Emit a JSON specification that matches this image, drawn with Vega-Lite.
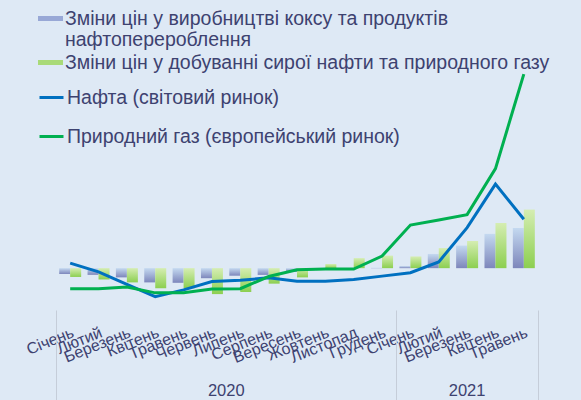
{
  "$schema": "https://vega.github.io/schema/vega-lite/v6.json",
  "width": 482,
  "height": 251,
  "autosize": {"type": "none"},
  "padding": {"left": 56, "top": 59, "right": 43, "bottom": 90},
  "background": "#dee9f5",
  "config": {"view": {"stroke": null}, "font": "Liberation Sans"},
  "datasets": {
    "bars": [
      {"m": "2020-01", "s": "Зміни цін у виробництві коксу та продуктів нафтоперероблення", "v": -14},
      {"m": "2020-02", "s": "Зміни цін у виробництві коксу та продуктів нафтоперероблення", "v": -16},
      {"m": "2020-03", "s": "Зміни цін у виробництві коксу та продуктів нафтоперероблення", "v": -22},
      {"m": "2020-04", "s": "Зміни цін у виробництві коксу та продуктів нафтоперероблення", "v": -34},
      {"m": "2020-05", "s": "Зміни цін у виробництві коксу та продуктів нафтоперероблення", "v": -35},
      {"m": "2020-06", "s": "Зміни цін у виробництві коксу та продуктів нафтоперероблення", "v": -24},
      {"m": "2020-07", "s": "Зміни цін у виробництві коксу та продуктів нафтоперероблення", "v": -18},
      {"m": "2020-08", "s": "Зміни цін у виробництві коксу та продуктів нафтоперероблення", "v": -16},
      {"m": "2020-09", "s": "Зміни цін у виробництві коксу та продуктів нафтоперероблення", "v": -9},
      {"m": "2020-10", "s": "Зміни цін у виробництві коксу та продуктів нафтоперероблення", "v": -3},
      {"m": "2020-11", "s": "Зміни цін у виробництві коксу та продуктів нафтоперероблення", "v": -1},
      {"m": "2020-12", "s": "Зміни цін у виробництві коксу та продуктів нафтоперероблення", "v": 1},
      {"m": "2021-01", "s": "Зміни цін у виробництві коксу та продуктів нафтоперероблення", "v": 5},
      {"m": "2021-02", "s": "Зміни цін у виробництві коксу та продуктів нафтоперероблення", "v": 34},
      {"m": "2021-03", "s": "Зміни цін у виробництві коксу та продуктів нафтоперероблення", "v": 54},
      {"m": "2021-04", "s": "Зміни цін у виробництві коксу та продуктів нафтоперероблення", "v": 82},
      {"m": "2021-05", "s": "Зміни цін у виробництві коксу та продуктів нафтоперероблення", "v": 96},
      {"m": "2020-01", "s": "Зміни цін у добуванні сирої нафти та природного газу", "v": -21},
      {"m": "2020-02", "s": "Зміни цін у добуванні сирої нафти та природного газу", "v": -27},
      {"m": "2020-03", "s": "Зміни цін у добуванні сирої нафти та природного газу", "v": -34},
      {"m": "2020-04", "s": "Зміни цін у добуванні сирої нафти та природного газу", "v": -48},
      {"m": "2020-05", "s": "Зміни цін у добуванні сирої нафти та природного газу", "v": -48},
      {"m": "2020-06", "s": "Зміни цін у добуванні сирої нафти та природного газу", "v": -62},
      {"m": "2020-07", "s": "Зміни цін у добуванні сирої нафти та природного газу", "v": -57},
      {"m": "2020-08", "s": "Зміни цін у добуванні сирої нафти та природного газу", "v": -37},
      {"m": "2020-09", "s": "Зміни цін у добуванні сирої нафти та природного газу", "v": -22},
      {"m": "2020-10", "s": "Зміни цін у добуванні сирої нафти та природного газу", "v": 10},
      {"m": "2020-11", "s": "Зміни цін у добуванні сирої нафти та природного газу", "v": 24},
      {"m": "2020-12", "s": "Зміни цін у добуванні сирої нафти та природного газу", "v": 30},
      {"m": "2021-01", "s": "Зміни цін у добуванні сирої нафти та природного газу", "v": 28},
      {"m": "2021-02", "s": "Зміни цін у добуванні сирої нафти та природного газу", "v": 48},
      {"m": "2021-03", "s": "Зміни цін у добуванні сирої нафти та природного газу", "v": 65},
      {"m": "2021-04", "s": "Зміни цін у добуванні сирої нафти та природного газу", "v": 108},
      {"m": "2021-05", "s": "Зміни цін у добуванні сирої нафти та природного газу", "v": 140}
    ],
    "lines": [
      {"m": "2020-01", "s": "Нафта (світовий ринок)", "v": 12},
      {"m": "2020-02", "s": "Нафта (світовий ринок)", "v": -9},
      {"m": "2020-03", "s": "Нафта (світовий ринок)", "v": -39},
      {"m": "2020-04", "s": "Нафта (світовий ринок)", "v": -68},
      {"m": "2020-05", "s": "Нафта (світовий ринок)", "v": -52},
      {"m": "2020-06", "s": "Нафта (світовий ринок)", "v": -32},
      {"m": "2020-07", "s": "Нафта (світовий ринок)", "v": -29},
      {"m": "2020-08", "s": "Нафта (світовий ринок)", "v": -23},
      {"m": "2020-09", "s": "Нафта (світовий ринок)", "v": -31},
      {"m": "2020-10", "s": "Нафта (світовий ринок)", "v": -31},
      {"m": "2020-11", "s": "Нафта (світовий ринок)", "v": -27},
      {"m": "2020-12", "s": "Нафта (світовий ринок)", "v": -19},
      {"m": "2021-01", "s": "Нафта (світовий ринок)", "v": -11},
      {"m": "2021-02", "s": "Нафта (світовий ринок)", "v": 15},
      {"m": "2021-03", "s": "Нафта (світовий ринок)", "v": 97},
      {"m": "2021-04", "s": "Нафта (світовий ринок)", "v": 201},
      {"m": "2021-05", "s": "Нафта (світовий ринок)", "v": 117},
      {"m": "2020-01", "s": "Природний газ (європейський ринок)", "v": -49},
      {"m": "2020-02", "s": "Природний газ (європейський ринок)", "v": -49},
      {"m": "2020-03", "s": "Природний газ (європейський ринок)", "v": -45},
      {"m": "2020-04", "s": "Природний газ (європейський ринок)", "v": -59},
      {"m": "2020-05", "s": "Природний газ (європейський ринок)", "v": -59},
      {"m": "2020-06", "s": "Природний газ (європейський ринок)", "v": -50},
      {"m": "2020-07", "s": "Природний газ (європейський ринок)", "v": -49},
      {"m": "2020-08", "s": "Природний газ (європейський ринок)", "v": -20},
      {"m": "2020-09", "s": "Природний газ (європейський ринок)", "v": -4},
      {"m": "2020-10", "s": "Природний газ (європейський ринок)", "v": -2},
      {"m": "2020-11", "s": "Природний газ (європейський ринок)", "v": -2},
      {"m": "2020-12", "s": "Природний газ (європейський ринок)", "v": 29},
      {"m": "2021-01", "s": "Природний газ (європейський ринок)", "v": 103},
      {"m": "2021-02", "s": "Природний газ (європейський ринок)", "v": 115},
      {"m": "2021-03", "s": "Природний газ (європейський ринок)", "v": 128},
      {"m": "2021-04", "s": "Природний газ (європейський ринок)", "v": 238},
      {"m": "2021-05", "s": "Природний газ (європейський ринок)", "v": 464}
    ]
  },
  "resolve": {"axis": {"x": "independent"}},
  "layer": [
    {
      "data": {"name": "bars"},
      "mark": {"type": "bar", "opacity": 0},
      "encoding": {
        "x": {
          "field": "m", "type": "ordinal", "scale": {"paddingInner": 0, "paddingOuter": 0},
          "axis": {
            "orient": "bottom", "title": null, "domain": false, "labels": false, "grid": false,
            "values": ["2021-05"], "bandPosition": 1,
            "tickSize": 92, "tickColor": "#c5cdd9", "tickWidth": 1
          }
        },
        "xOffset": {
          "field": "s", "type": "nominal",
          "sort": ["Зміни цін у виробництві коксу та продуктів нафтоперероблення", "Зміни цін у добуванні сирої нафти та природного газу"],
          "scale": {"paddingInner": 0, "paddingOuter": 0.29}
        },
        "y": {"field": "v", "type": "quantitative", "scale": {"domain": [-100, 500], "nice": false, "zero": false}, "axis": null},
        "fill": {
          "field": "s", "type": "nominal",
          "scale": {
            "domain": ["Зміни цін у виробництві коксу та продуктів нафтоперероблення", "Зміни цін у добуванні сирої нафти та природного газу"],
            "range": ["#98a8d6", "#a9da78"]
          },
          "legend": {
            "title": null, "orient": "none", "legendX": -18, "legendY": -53,
            "symbolType": "M-1,-0.2H1V0.2H-1Z", "symbolSize": 625, "symbolStrokeWidth": 0, "symbolOpacity": 1,
            "labelFontSize": 19.5, "labelColor": "#3d4270", "labelOffset": 2, "labelLimit": 0, "rowPadding": 0,
            "labelExpr": "datum.label == 'Зміни цін у виробництві коксу та продуктів нафтоперероблення' ? ['Зміни цін у виробництві коксу та продуктів', 'нафтоперероблення'] : datum.label"
          }
        }
      }
    },
    {
      "data": {"name": "bars"},
      "mark": {"type": "bar"},
      "encoding": {
        "x": {
          "field": "m", "type": "ordinal",
          "axis": {
            "orient": "bottom", "title": null, "domain": false, "ticks": false, "grid": false,
            "labelAngle": -22, "labelAlign": "right", "labelBaseline": "top", "labelPadding": 14,
            "labelFontSize": 16, "labelColor": "#3d4270", "labelOverlap": false, "labelBound": false, "labelLimit": 0,
            "labelExpr": "['Січень','Лютий','Березень','Квітень','Травень','Червень','Липень','Серпень','Вересень','Жовтень','Листопад','Грудень'][toNumber(substring(datum.value,5,7))-1]"
          }
        },
        "xOffset": {
          "field": "s", "type": "nominal",
          "sort": ["Зміни цін у виробництві коксу та продуктів нафтоперероблення", "Зміни цін у добуванні сирої нафти та природного газу"]
        },
        "y": {
          "field": "v", "type": "quantitative",
          "axis": {
            "orient": "right", "title": null, "domain": false, "ticks": false,
            "values": [-100, 0, 100, 200, 300, 400, 500],
            "labelPadding": 10, "labelFontSize": 10.5, "labelColor": "#595959",
            "grid": true, "gridColor": "#f3f7fb", "gridWidth": 1.5,
            "gridOpacity": {"condition": {"test": "datum.value == 0", "value": 1}, "value": 0}
          }
        },
        "fill": {
          "condition": {
            "test": "datum.s == 'Зміни цін у виробництві коксу та продуктів нафтоперероблення'",
            "value": {"gradient": "linear", "x1": 0, "y1": 0, "x2": 0, "y2": 1, "stops": [{"offset": 0, "color": "#c4d9f0"}, {"offset": 1, "color": "#7d86bb"}]}
          },
          "value": {"gradient": "linear", "x1": 0, "y1": 0, "x2": 0, "y2": 1, "stops": [{"offset": 0, "color": "#d5edb2"}, {"offset": 1, "color": "#8ccf50"}]}
        }
      }
    },
    {
      "data": {"name": "lines"},
      "transform": [{"filter": "datum.s == 'Нафта (світовий ринок)'"}],
      "mark": {"type": "line", "strokeWidth": 3},
      "encoding": {
        "x": {
          "field": "m", "type": "ordinal",
          "axis": {
            "orient": "bottom", "title": null, "domain": false, "labels": false, "grid": false,
            "values": ["2020-01", "2021-01"], "bandPosition": 0,
            "tickSize": 92, "tickColor": "#c5cdd9", "tickWidth": 1
          }
        },
        "y": {"field": "v", "type": "quantitative", "axis": null},
        "stroke": {
          "field": "s", "type": "nominal",
          "scale": {"domain": ["Нафта (світовий ринок)", "Природний газ (європейський ринок)"], "range": ["#0070c0", "#00b050"]},
          "legend": {
            "title": null, "orient": "none", "legendX": -18, "legendY": 25,
            "symbolType": "stroke", "symbolSize": 576, "symbolStrokeWidth": 3,
            "labelFontSize": 19.5, "labelColor": "#3d4270", "labelOffset": 2, "labelLimit": 0, "rowPadding": 16
          }
        }
      }
    },
    {
      "data": {"name": "lines"},
      "transform": [{"filter": "datum.s == 'Природний газ (європейський ринок)'"}],
      "mark": {"type": "line", "strokeWidth": 3},
      "encoding": {
        "x": {
          "field": "m", "type": "ordinal",
          "axis": {
            "orient": "bottom", "title": null, "domain": false, "ticks": false, "grid": false,
            "values": ["2020-07", "2021-03"], "labelAngle": 0, "labelAlign": "center",
            "labelExpr": "datum.value == '2020-07' ? '2020' : '2021'",
            "labelOffset": {"condition": {"test": "datum.value == '2020-07'", "value": -14}, "value": 0},
            "labelPadding": 72, "labelFontSize": 16.5, "labelColor": "#3d4270", "labelBaseline": "top"
          }
        },
        "y": {"field": "v", "type": "quantitative", "axis": null},
        "stroke": {
          "field": "s", "type": "nominal",
          "scale": {"domain": ["Нафта (світовий ринок)", "Природний газ (європейський ринок)"], "range": ["#0070c0", "#00b050"]},
          "legend": {
            "title": null, "orient": "none", "legendX": -18, "legendY": 25,
            "symbolType": "stroke", "symbolSize": 576, "symbolStrokeWidth": 3,
            "labelFontSize": 19.5, "labelColor": "#3d4270", "labelOffset": 2, "labelLimit": 0, "rowPadding": 16
          }
        }
      }
    }
  ]
}
